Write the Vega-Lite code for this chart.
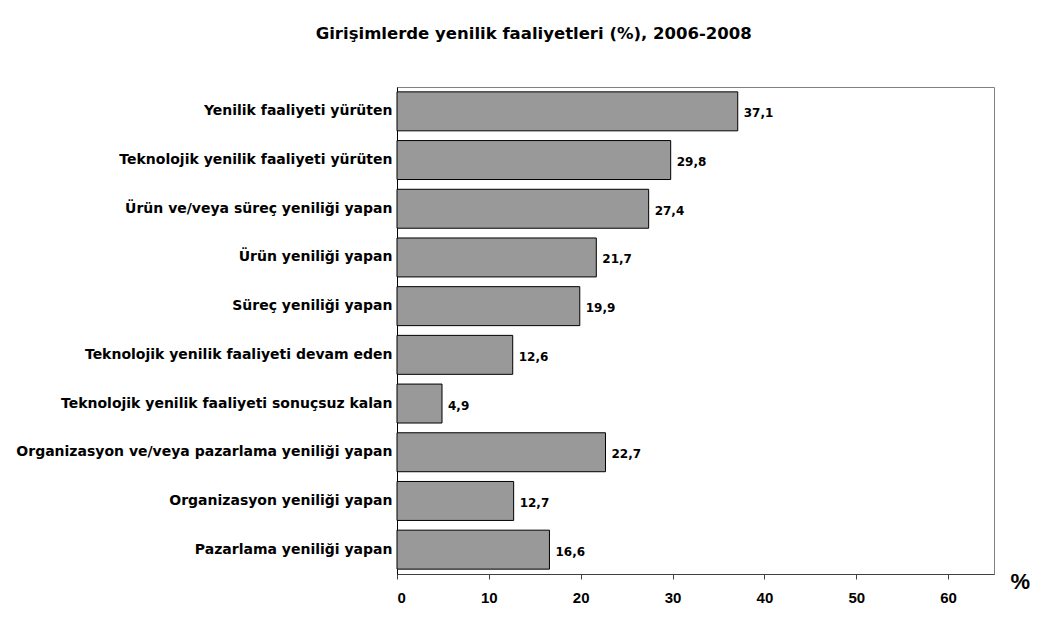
{
  "$schema": "https://vega.github.io/schema/vega-lite/v6.json",
  "autosize": "none",
  "width": 597,
  "height": 487,
  "padding": {"left": 397, "top": 87, "right": 53, "bottom": 65},
  "background": "white",
  "title": {
    "text": "Girişimlerde yenilik faaliyetleri (%), 2006-2008",
    "font": "DejaVu Sans",
    "fontSize": 16.5,
    "fontWeight": "bold",
    "color": "black",
    "anchor": "middle",
    "frame": "bounds",
    "dx": 11,
    "offset": 45
  },
  "config": {
    "view": {"stroke": "#808080", "strokeWidth": 1},
    "font": "Liberation Sans"
  },
  "data": {
    "values": [
      {"cat": "Yenilik faaliyeti yürüten", "val": 37.1, "lbl": "37,1"},
      {"cat": "Teknolojik yenilik faaliyeti yürüten", "val": 29.8, "lbl": "29,8"},
      {"cat": "Ürün ve/veya süreç yeniliği yapan", "val": 27.4, "lbl": "27,4"},
      {"cat": "Ürün yeniliği yapan", "val": 21.7, "lbl": "21,7"},
      {"cat": "Süreç yeniliği yapan", "val": 19.9, "lbl": "19,9"},
      {"cat": "Teknolojik yenilik faaliyeti devam eden", "val": 12.6, "lbl": "12,6"},
      {"cat": "Teknolojik yenilik faaliyeti sonuçsuz kalan", "val": 4.9, "lbl": "4,9"},
      {"cat": "Organizasyon ve/veya pazarlama yeniliği yapan", "val": 22.7, "lbl": "22,7"},
      {"cat": "Organizasyon yeniliği yapan", "val": 12.7, "lbl": "12,7"},
      {"cat": "Pazarlama yeniliği yapan", "val": 16.6, "lbl": "16,6"}
    ]
  },
  "encoding": {
    "y": {
      "field": "cat",
      "type": "nominal",
      "sort": null,
      "scale": {"paddingInner": 0.2, "paddingOuter": 0.1},
      "axis": {
        "title": null,
        "ticks": false,
        "labelFont": "DejaVu Sans",
        "labelFontSize": 14,
        "labelFontWeight": "bold",
        "labelColor": "black",
        "labelPadding": 5,
        "domainColor": "black",
        "labelLimit": 400
      }
    },
    "x": {
      "field": "val",
      "type": "quantitative",
      "scale": {"domain": [0, 65], "nice": false},
      "axis": {
        "values": [0, 10, 20, 30, 40, 50, 60],
        "grid": false,
        "title": "%",
        "titleFont": "Liberation Sans",
        "titleFontSize": 22,
        "titleFontWeight": "bold",
        "titleColor": "black",
        "titleAnchor": "end",
        "titleAlign": "left",
        "titleBaseline": "alphabetic",
        "titleX": 613,
        "titleY": 14,
        "labelFont": "Liberation Sans",
        "labelFontSize": 15,
        "labelFontWeight": "bold",
        "labelColor": "black",
        "labelPadding": 11,
        "tickColor": "#404040",
        "tickSize": 5,
        "domainColor": "#404040"
      }
    }
  },
  "layer": [
    {
      "mark": {"type": "bar", "color": "#999999", "stroke": "black", "strokeWidth": 1}
    },
    {
      "mark": {"type": "text", "align": "left", "dx": 6, "dy": 2, "font": "DejaVu Sans", "fontSize": 12, "fontWeight": "bold", "color": "black"},
      "encoding": {"text": {"field": "lbl"}}
    }
  ]
}
